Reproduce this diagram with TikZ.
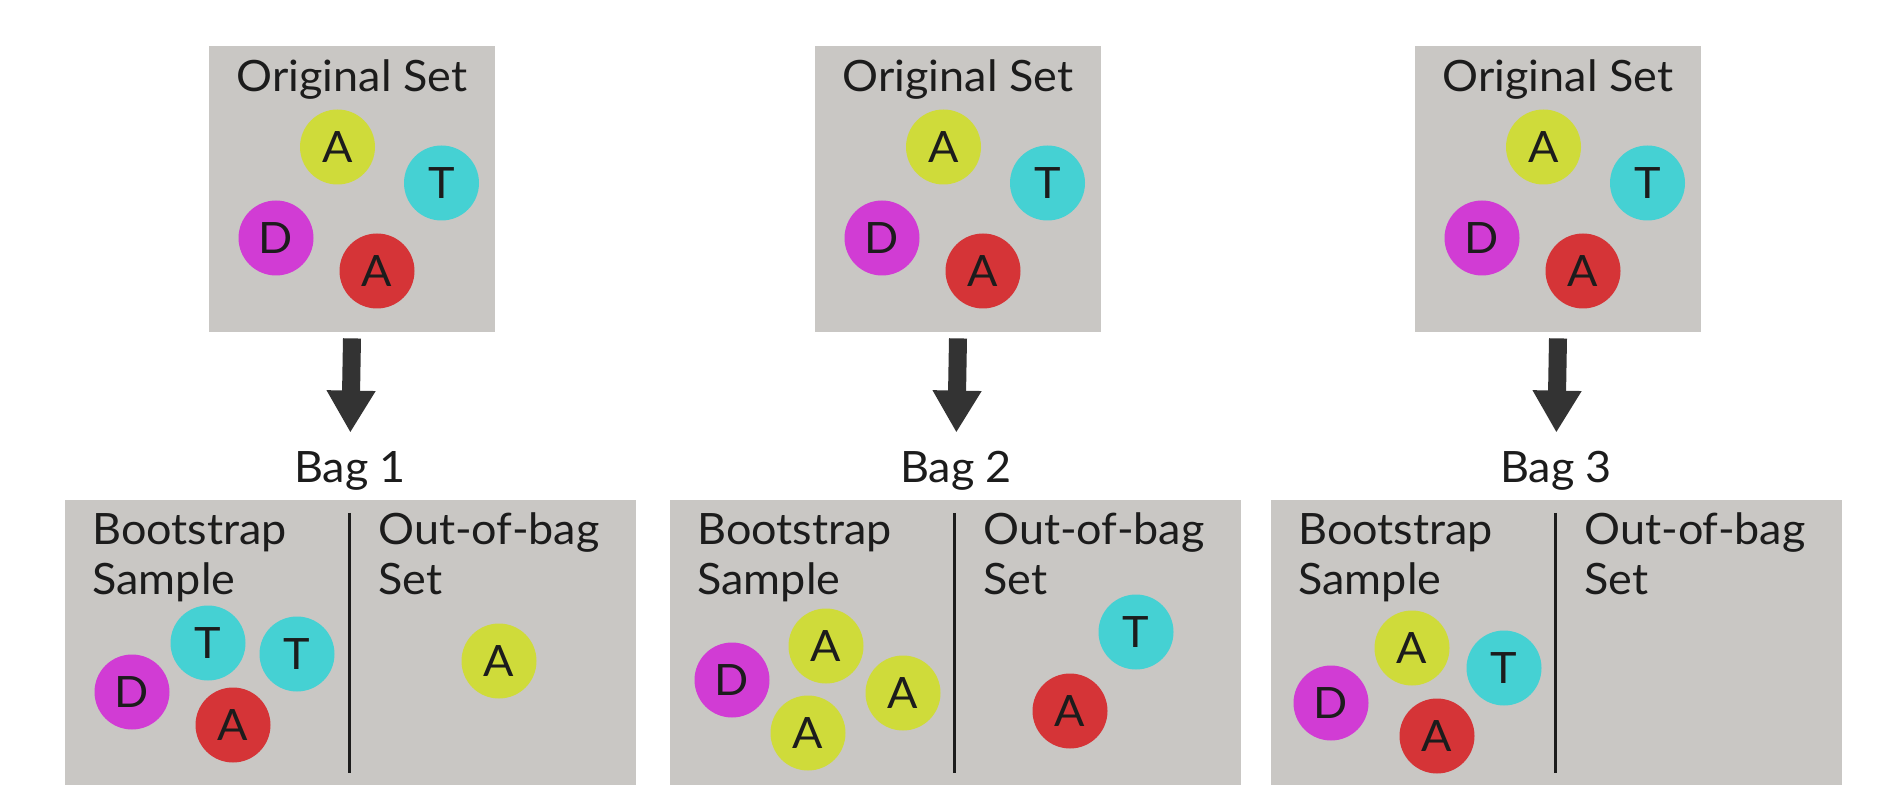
\documentclass[tikz,border=0pt]{standalone}
\usepackage{fontspec}
\setmainfont{Lato}[FakeStretch=1.04]
\usetikzlibrary{arrows.meta}
\definecolor{boxgray}{HTML}{C9C7C4}
\definecolor{cyel}{HTML}{CFDB3A}
\definecolor{ccyan}{HTML}{45D1D3}
\definecolor{cmag}{HTML}{D13CD4}
\definecolor{cred}{HTML}{D53437}
\definecolor{ink}{HTML}{1C1C1C}
\definecolor{arrowgray}{HTML}{333333}
\begin{document}
\begin{tikzpicture}[x=0.5pt,y=-0.5pt,
  txt/.style={font=\fontsize{21.6}{24}\selectfont, text=ink, inner sep=0pt},
  lbl/.style={txt, anchor=base west},
  title/.style={txt, anchor=base},
  baglbl/.style={txt, anchor=base, text height=15.5pt},
  topbox/.style={fill=boxgray, draw=none, minimum width=143pt, minimum height=143pt, inner sep=0pt},
  botbox/.style={fill=boxgray, draw=none, minimum width=285.5pt, minimum height=142.5pt, inner sep=0pt},
  ball/.style={circle, minimum size=37.5pt, inner sep=0pt, draw=none, font=\fontsize{21.6}{24}\selectfont, text=ink},
  yball/.style={ball, fill=cyel},
  cball/.style={ball, fill=ccyan},
  mball/.style={ball, fill=cmag},
  rball/.style={ball, fill=cred},
  bigarrow/.style={draw=arrowgray, line width=9pt, -{Triangle[length=21pt,width=23pt]}, shorten >=9.5pt},
  divider/.style={draw=ink, line width=1.5pt}
]
\fill[white] (0,0) rectangle (1885,812);
\useasboundingbox (0,0) rectangle (1885,812);

% top sets, arrows and bag labels
\foreach \i/\L in {1/209,2/815,3/1415}{
  \node[topbox] (o\i) at (\L+143,189) {};
  \node[title] (t\i) at (\L+143,92) {Original Set};
  \node[yball] (o\i-a) at (\L+128.5,147) {A};
  \node[cball] (o\i-t) at (\L+232.5,183) {T};
  \node[mball] (o\i-d) at (\L+67,238) {D};
  \node[rball] (o\i-r) at (\L+168,271) {A};
  \node[baglbl] (g\i) at (\L+141,483) {Bag \i};
  \draw[bigarrow] ([yshift=-3pt]o\i.south) -- (g\i.north);
}

% bottom boxes
\foreach \i/\L in {1/65,2/670,3/1271}{
  \node[botbox] (b\i) at (\L+285.5,642.5) {};
  \draw[divider] (\L+284,513) -- (\L+284,773);
  \node[lbl] (bs\i) at (\L+27,545) {Bootstrap};
  \node[lbl] (bs\i b) at (\L+27,594) {Sample};
  \node[lbl] (ob\i) at (\L+313,545) {Out-of-bag};
  \node[lbl] (ob\i b) at (\L+313,594) {Set};
}

% bag 1
\node[cball] (b1-t1) at (208,643) {T};
\node[cball] (b1-t2) at (297,654) {T};
\node[mball] (b1-d) at (132,692) {D};
\node[rball] (b1-r) at (233,725) {A};
\node[yball] (b1-o) at (499,661) {A};

% bag 2
\node[mball] (b2-d) at (732,680) {D};
\node[yball] (b2-a1) at (826,646) {A};
\node[yball] (b2-a2) at (903,693) {A};
\node[yball] (b2-a3) at (808,733) {A};
\node[cball] (b2-ot) at (1136,632) {T};
\node[rball] (b2-or) at (1070,711) {A};

% bag 3
\node[yball] (b3-a) at (1412,648) {A};
\node[cball] (b3-t) at (1504,668) {T};
\node[mball] (b3-d) at (1331,703) {D};
\node[rball] (b3-r) at (1437,736) {A};
\end{tikzpicture}
\end{document}
